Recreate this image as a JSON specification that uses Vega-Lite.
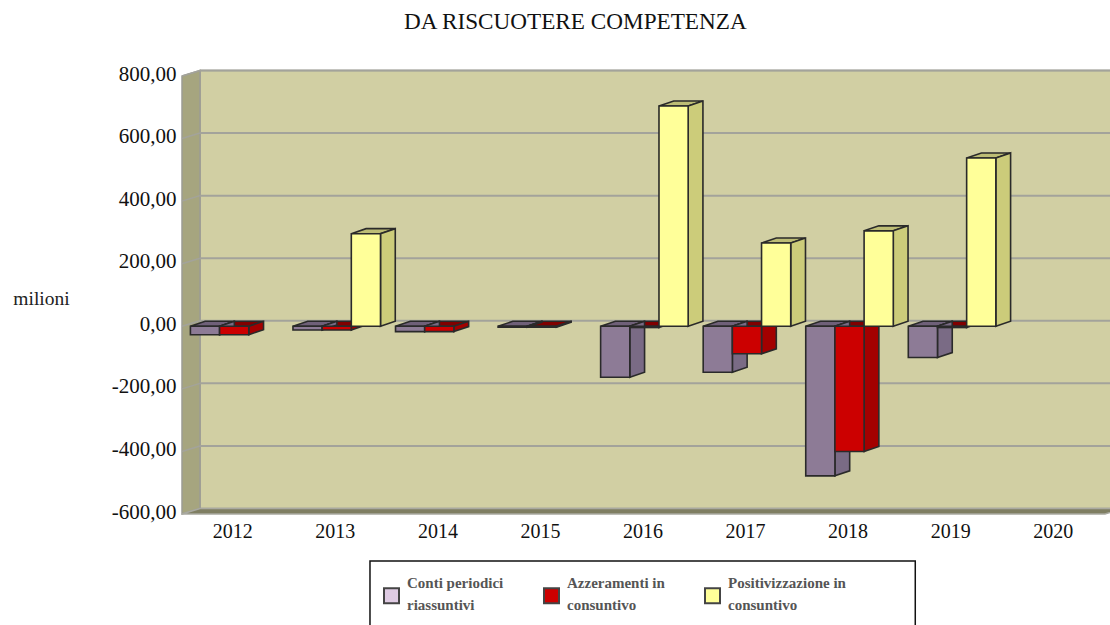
{
"$schema":"https://vega.github.io/schema/vega-lite/v6.json",
"width":923,"height":438,
"autosize":{"type":"none"},
"padding":{"left":182,"top":76,"right":5,"bottom":111},
"background":"white",
"config":{"view":{"stroke":null},"font":"Liberation Serif"},
"title":{"text":"DA RISCUOTERE COMPETENZA","font":"Liberation Serif","fontSize":23.2,"fontWeight":"normal","color":"#111","anchor":"start","frame":"group","dx":222,"offset":29},
"datasets":{
"bars":[
{"anno":2012,"serie":"Conti periodici riassuntivi","valore":-27},
{"anno":2012,"serie":"Azzeramenti in consuntivo","valore":-27},
{"anno":2013,"serie":"Conti periodici riassuntivi","valore":-12},
{"anno":2013,"serie":"Azzeramenti in consuntivo","valore":-12},
{"anno":2013,"serie":"Positivizzazione in consuntivo","valore":296},
{"anno":2014,"serie":"Conti periodici riassuntivi","valore":-17},
{"anno":2014,"serie":"Azzeramenti in consuntivo","valore":-17},
{"anno":2015,"serie":"Conti periodici riassuntivi","valore":-3},
{"anno":2015,"serie":"Azzeramenti in consuntivo","valore":-3},
{"anno":2016,"serie":"Conti periodici riassuntivi","valore":-163},
{"anno":2016,"serie":"Azzeramenti in consuntivo","valore":-4},
{"anno":2016,"serie":"Positivizzazione in consuntivo","valore":704},
{"anno":2017,"serie":"Conti periodici riassuntivi","valore":-147},
{"anno":2017,"serie":"Azzeramenti in consuntivo","valore":-88},
{"anno":2017,"serie":"Positivizzazione in consuntivo","valore":266},
{"anno":2018,"serie":"Conti periodici riassuntivi","valore":-478},
{"anno":2018,"serie":"Azzeramenti in consuntivo","valore":-400},
{"anno":2018,"serie":"Positivizzazione in consuntivo","valore":305},
{"anno":2019,"serie":"Conti periodici riassuntivi","valore":-100},
{"anno":2019,"serie":"Azzeramenti in consuntivo","valore":-4},
{"anno":2019,"serie":"Positivizzazione in consuntivo","valore":538}
],
"griglia":[{"v":-400},{"v":-200},{"v":0},{"v":200},{"v":400},{"v":600},{"v":800}]
},
"resolve":{"scale":{"fill":"independent"}},
"layer":[
{"data":{"values":[{}]},"mark":{"type":"rect","fill":"#D1CFA3","stroke":"#9c9c94","strokeWidth":1.5},
"encoding":{
"x":{"datum":2011.6755,"type":"quantitative","scale":{"domain":[2011.5,2020.5],"nice":false,"zero":false},"axis":{"values":[2012,2013,2014,2015,2016,2017,2018,2019,2020],"format":"d","title":null,"grid":false,"domain":false,"ticks":false,"labelFont":"Liberation Serif","labelFontSize":20,"labelColor":"#111","labelPadding":7,"labelOffset":-1,"labelOverlap":false}},
"x2":{"datum":2021},
"y":{"datum":-582.4,"type":"quantitative","scale":{"domain":[-600,800],"nice":false,"zero":false},"axis":{"values":[-600,-400,-200,0,200,400,600,800],"labelExpr":"(datum.value<0?'-':'')+replace(format(abs(datum.value),'.2f'),'.',',')","title":"milioni","titleAngle":0,"titleX":-141,"titleY":222,"titleAlign":"center","titleBaseline":"middle","titleFont":"Liberation Serif","titleFontSize":19.5,"titleFontWeight":"normal","titleColor":"#222","grid":false,"domain":false,"ticks":false,"labelFont":"Liberation Serif","labelFontSize":21,"labelColor":"#111","labelPadding":6,"labelOffset":-2,"labelOverlap":false}},
"y2":{"datum":817.6}}},
{"data":{"values":[{"xp":2011.5,"lo":-600,"hi":800},{"xp":2011.6755,"lo":-582.4,"hi":817.6}]},
"mark":{"type":"area","fill":"#A6A57F","stroke":"#9c9c94","strokeWidth":1.5},
"encoding":{"x":{"field":"xp","type":"quantitative"},"y":{"field":"lo","type":"quantitative"},"y2":{"field":"hi"}}},
{"data":{"values":[{"xp":2011.5,"lo":-600,"hi":-600},{"xp":2011.6755,"lo":-600,"hi":-582.4},{"xp":2020.5,"lo":-600,"hi":-582.4},{"xp":2020.6755,"lo":-582.4,"hi":-582.4}]},
"mark":{"type":"area","fill":"#7F7E62","stroke":"#a9a9a0","strokeWidth":1.5},
"encoding":{"x":{"field":"xp","type":"quantitative"},"y":{"field":"lo","type":"quantitative"},"y2":{"field":"hi"}}},
{"data":{"name":"griglia"},"transform":[{"calculate":"datum.v+17.6","as":"vb"},{"calculate":"2011.6755","as":"b"},{"calculate":"2021","as":"c"}],
"mark":{"type":"rule","color":"#A3A39B","strokeWidth":2},
"encoding":{"x":{"field":"b","type":"quantitative"},"x2":{"field":"c"},"y":{"field":"vb","type":"quantitative"}}},
{"data":{"name":"griglia"},"transform":[{"calculate":"datum.v+17.6","as":"vb"},{"calculate":"2011.5","as":"a"},{"calculate":"2011.6755","as":"b"}],
"mark":{"type":"rule","color":"#A3A39B","strokeWidth":1.5},
"encoding":{"x":{"field":"a","type":"quantitative"},"x2":{"field":"b"},"y":{"field":"v","type":"quantitative"},"y2":{"field":"vb"}}},
{"data":{"name":"bars"},"transform":[
{"calculate":"datum.anno-0.418+0.2845*indexof(['Conti periodici riassuntivi','Azzeramenti in consuntivo','Positivizzazione in consuntivo'],datum.serie)","as":"x0"},
{"calculate":"datum.x0+0.2845","as":"x1"},{"calculate":"datum.x0+0.144","as":"x2"},{"calculate":"datum.x1+0.144","as":"x3"},
{"calculate":"max(datum.valore,0)","as":"hi"},{"calculate":"datum.anno+datum.serie","as":"id"},
{"fold":["x0","x2","x1","x3"],"as":["k","xp"]},
{"calculate":"datum.k=='x3'?datum.hi+16:datum.hi","as":"ya"},
{"calculate":"datum.k=='x0'?datum.hi:datum.hi+16","as":"yb"}],
"mark":{"type":"area","stroke":"#2a2a2a","strokeWidth":1.6},
"encoding":{"x":{"field":"xp","type":"quantitative"},"y":{"field":"ya","type":"quantitative"},"y2":{"field":"yb"},"detail":{"field":"id"},
"fill":{"field":"serie","type":"nominal","legend":null,"scale":{"domain":["Conti periodici riassuntivi","Azzeramenti in consuntivo","Positivizzazione in consuntivo"],"range":["#6F6079","#800000","#BDBD75"]}}}},
{"data":{"name":"bars"},"transform":[
{"calculate":"datum.anno-0.418+0.2845*indexof(['Conti periodici riassuntivi','Azzeramenti in consuntivo','Positivizzazione in consuntivo'],datum.serie)","as":"x0"},
{"calculate":"datum.x0+0.2845","as":"x1"},{"calculate":"datum.x1+0.144","as":"x3"},
{"calculate":"max(datum.valore,0)","as":"hi"},{"calculate":"min(datum.valore,0)","as":"lo"},{"calculate":"datum.anno+datum.serie","as":"id"},
{"fold":["x1","x3"],"as":["k","xp"]},
{"calculate":"datum.k=='x3'?datum.lo+16:datum.lo","as":"ya"},
{"calculate":"datum.k=='x3'?datum.hi+16:datum.hi","as":"yb"}],
"mark":{"type":"area","stroke":"#2a2a2a","strokeWidth":1.6},
"encoding":{"x":{"field":"xp","type":"quantitative"},"y":{"field":"ya","type":"quantitative"},"y2":{"field":"yb"},"detail":{"field":"id"},
"fill":{"field":"serie","type":"nominal","legend":null,"scale":{"domain":["Conti periodici riassuntivi","Azzeramenti in consuntivo","Positivizzazione in consuntivo"],"range":["#7A6B85","#A30000","#CCCC7A"]}}}},
{"data":{"name":"bars"},"transform":[
{"calculate":"datum.anno-0.418+0.2845*indexof(['Conti periodici riassuntivi','Azzeramenti in consuntivo','Positivizzazione in consuntivo'],datum.serie)","as":"x0"},
{"calculate":"datum.x0+0.2845","as":"x1"},{"calculate":"0","as":"zero"}],
"mark":{"type":"rect","stroke":"#2a2a2a","strokeWidth":1.6},
"encoding":{"x":{"field":"x0","type":"quantitative"},"x2":{"field":"x1"},"y":{"field":"valore","type":"quantitative"},"y2":{"field":"zero"},
"fill":{"field":"serie","type":"nominal","legend":null,"scale":{"domain":["Conti periodici riassuntivi","Azzeramenti in consuntivo","Positivizzazione in consuntivo"],"range":["#8D7B96","#CC0000","#FFFF99"]}}}},
{"data":{"values":[{}]},"mark":{"type":"rect","fill":"white","stroke":"#111","strokeWidth":1.5},
"encoding":{"x":{"datum":2013.333,"type":"quantitative"},"x2":{"datum":2018.65},"y":{"datum":-750,"type":"quantitative"},"y2":{"datum":-1000}}},
{"data":{"name":"bars"},"transform":[{"filter":"false"}],
"mark":{"type":"rect","stroke":"#444","strokeWidth":2},
"encoding":{
"fill":{"field":"serie","type":"nominal","scale":{"domain":["Conti periodici riassuntivi","Azzeramenti in consuntivo","Positivizzazione in consuntivo"],"range":["#DFCBE3","#CC0000","#FFFF99"]},
"legend":{"orient":"none","legendX":201,"legendY":511,"columns":3,"title":null,"symbolType":"square","symbolSize":225,"symbolStrokeColor":"#444","symbolStrokeWidth":2,"labelFont":"Liberation Serif","labelFontSize":15,"labelFontWeight":"bold","labelColor":"#555","labelOffset":7,"columnPadding":36,"padding":0,
"labelExpr":"datum.label=='Conti periodici riassuntivi'?['Conti periodici','riassuntivi']:datum.label=='Azzeramenti in consuntivo'?['Azzeramenti in','consuntivo']:['Positivizzazione in','consuntivo']",
"encode":{"labels":{"update":{"lineHeight":{"value":22},"dy":{"value":-13}}},
"symbols":{"update":{"stroke":{"value":"#444"},"strokeWidth":{"value":2}}}}}}}}
]
}
